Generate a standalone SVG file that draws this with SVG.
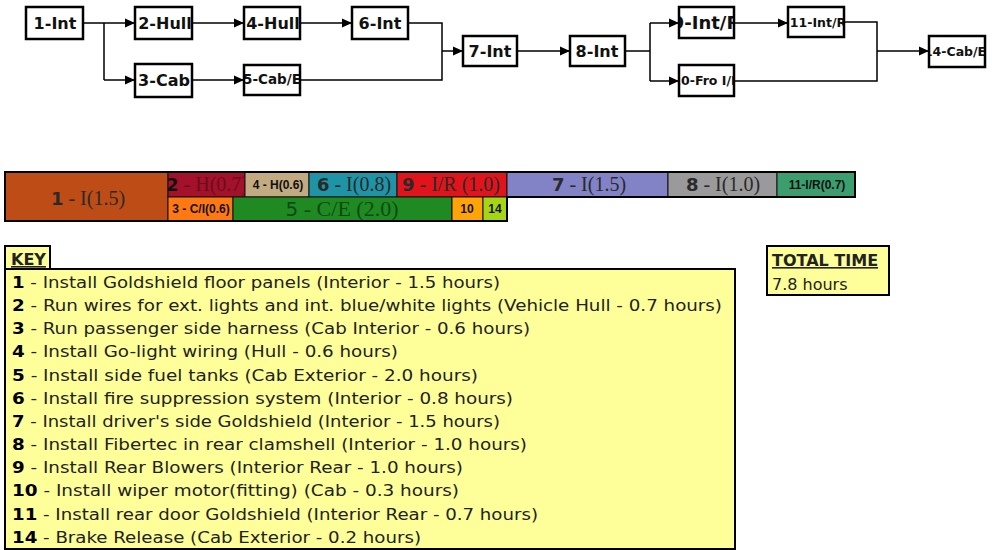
<svg xmlns="http://www.w3.org/2000/svg" width="992" height="550" viewBox="0 0 992 550">
<style>
.node rect{fill:#fff;stroke:#000;stroke-width:2.5}
.nl{font-family:"DejaVu Sans",Verdana,sans-serif;font-weight:bold;font-size:16px;fill:#111;text-anchor:middle}
.ns{font-family:"DejaVu Sans",Verdana,sans-serif;font-weight:bold;font-size:12.5px;fill:#111;text-anchor:middle}
.conn path{fill:none;stroke:#000;stroke-width:1.5}
.cell{stroke:#111;stroke-width:1}
.gl{font-family:"Liberation Serif","Times New Roman",serif;font-size:20px;fill:#2a2a2a;text-anchor:middle}
.gl tspan.d{font-family:"DejaVu Sans",Verdana,sans-serif;font-weight:bold;font-size:18px}
.gs{font-family:"Liberation Sans",Arial,sans-serif;font-size:12px;font-weight:bold;fill:#111;text-anchor:middle}
.key{font-family:"DejaVu Sans",Verdana,sans-serif;font-size:16px;fill:#222}
.key tspan.b{font-weight:bold;fill:#000}
.box{fill:#ffff99;stroke:#000;stroke-width:2}
</style>
<defs>
<marker id="ah" markerWidth="10" markerHeight="10" refX="10" refY="5" orient="auto" markerUnits="userSpaceOnUse">
<path d="M0,0.5 L10,5 L0,9.5 z" fill="#000"/>
</marker>
<clipPath id="c1"><rect x="26" y="7" width="57" height="32"/></clipPath>
<clipPath id="c2"><rect x="136" y="7" width="55" height="32"/></clipPath>
<clipPath id="c4"><rect x="245" y="7" width="54" height="32"/></clipPath>
<clipPath id="c6"><rect x="352" y="7" width="56" height="32"/></clipPath>
<clipPath id="c3"><rect x="136" y="64" width="55" height="33"/></clipPath>
<clipPath id="c5"><rect x="245" y="65" width="54" height="30"/></clipPath>
<clipPath id="c7"><rect x="463" y="36" width="54" height="30"/></clipPath>
<clipPath id="c8"><rect x="570" y="36" width="55" height="30"/></clipPath>
<clipPath id="c9"><rect x="680" y="7" width="53" height="31"/></clipPath>
<clipPath id="c11"><rect x="789" y="7" width="54" height="30"/></clipPath>
<clipPath id="c10"><rect x="680" y="65" width="53" height="31"/></clipPath>
<clipPath id="c14"><rect x="930" y="36" width="54" height="31"/></clipPath>
<clipPath id="g2"><rect x="168" y="172" width="77" height="25"/></clipPath>
<clipPath id="g5"><rect x="233" y="197" width="219" height="24"/></clipPath>
</defs>
<rect width="992" height="550" fill="#fff"/>

<g class="conn" id="connectors">
<path d="M83,23 H104 M104,23 V80"/>
<path d="M104,23 H135" marker-end="url(#ah)"/>
<path d="M104,80 H135" marker-end="url(#ah)"/>
<path d="M192,23 H244" marker-end="url(#ah)"/>
<path d="M300,23 H352" marker-end="url(#ah)"/>
<path d="M192,80 H244" marker-end="url(#ah)"/>
<path d="M408,23 H442 V80 H300"/>
<path d="M442,51 H463" marker-end="url(#ah)"/>
<path d="M517,51 H570" marker-end="url(#ah)"/>
<path d="M625,51 H650 M650,23 V81"/>
<path d="M650,23 H679" marker-end="url(#ah)"/>
<path d="M650,81 H679" marker-end="url(#ah)"/>
<path d="M734,23 H788" marker-end="url(#ah)"/>
<path d="M844,22 H877 V81 H734"/>
<path d="M877,51 H929" marker-end="url(#ah)"/>
</g>

<g class="node" id="n1"><rect x="26" y="7" width="57" height="32"/><text class="nl" x="55" y="29" clip-path="url(#c1)">1-Int</text></g>
<g class="node" id="n2"><rect x="135" y="7" width="57" height="32"/><text class="nl" x="165" y="29" clip-path="url(#c2)">2-Hull</text></g>
<g class="node" id="n4"><rect x="244" y="7" width="56" height="32"/><text class="nl" x="273" y="29" clip-path="url(#c4)">4-Hull</text></g>
<g class="node" id="n6"><rect x="352" y="7" width="56" height="32"/><text class="nl" x="380" y="29" clip-path="url(#c6)">6-Int</text></g>
<g class="node" id="n3"><rect x="135" y="64" width="57" height="33"/><text class="nl" x="164" y="86" clip-path="url(#c3)">3-Cab</text></g>
<g class="node" id="n5"><rect x="244" y="65" width="56" height="30"/><text class="ns" x="272" y="84" clip-path="url(#c5)" style="font-size:13.5px">5-Cab/E</text></g>
<g class="node" id="n7"><rect x="463" y="36" width="54" height="30"/><text class="nl" x="490" y="57" clip-path="url(#c7)">7-Int</text></g>
<g class="node" id="n8"><rect x="570" y="36" width="55" height="30"/><text class="nl" x="597" y="57" clip-path="url(#c8)">8-Int</text></g>
<g class="node" id="n9"><rect x="679" y="7" width="55" height="31"/><text class="nl" x="706" y="29" clip-path="url(#c9)" style="font-size:18px">9-Int/R</text></g>
<g class="node" id="n11"><rect x="788" y="7" width="56" height="30"/><text class="ns" x="818" y="27" clip-path="url(#c11)">11-Int/R</text></g>
<g class="node" id="n10"><rect x="679" y="65" width="55" height="31"/><text class="ns" x="704" y="85" clip-path="url(#c10)">10-Fro I/I</text></g>
<g class="node" id="n14"><rect x="929" y="36" width="56" height="31"/><text class="ns" x="955" y="56" clip-path="url(#c14)">14-Cab/E</text></g>

<g id="gantt">
<rect class="cell" x="5" y="172" width="163" height="49" fill="#bd4c16"/>
<rect class="cell" x="168" y="172" width="77" height="25" fill="#a3112b"/>
<rect class="cell" x="245" y="172" width="64" height="25" fill="#c2ab80"/>
<rect class="cell" x="309" y="172" width="88" height="25" fill="#1e94a6"/>
<rect class="cell" x="397" y="172" width="110" height="25" fill="#e2141b"/>
<rect class="cell" x="507" y="172" width="161" height="25" fill="#8282c6"/>
<rect class="cell" x="668" y="172" width="109" height="25" fill="#9a9a9a"/>
<rect class="cell" x="777" y="172" width="78" height="25" fill="#3c9e6e"/>
<rect class="cell" x="168" y="197" width="65" height="24" fill="#ff7812"/>
<rect class="cell" x="233" y="197" width="219" height="24" fill="#1f8a22"/>
<rect class="cell" x="452" y="197" width="31" height="24" fill="#ffa404"/>
<rect class="cell" x="483" y="197" width="24" height="24" fill="#a6d612"/>
<path d="M5,172 H855 V197 H507 V221 H5 Z" fill="none" stroke="#000" stroke-width="2"/>
<text class="gl" x="88" y="205"><tspan class="d">1</tspan> - I(1.5)</text>
<text class="gl" x="207" y="191" clip-path="url(#g2)" style="fill:#6e0c1c"><tspan class="d" style="fill:#111">2</tspan> - H(0.7)</text>
<text class="gs" x="278" y="189">4 - H(0.6)</text>
<text class="gl" x="354" y="191"><tspan class="d">6</tspan> - I(0.8)</text>
<text class="gl" x="451" y="191"><tspan class="d">9</tspan> - I/R (1.0)</text>
<text class="gl" x="589" y="191"><tspan class="d">7</tspan> - I(1.5)</text>
<text class="gl" x="723" y="191"><tspan class="d">8</tspan> - I(1.0)</text>
<text class="gs" x="817" y="189">11-I/R(0.7)</text>
<text class="gs" x="201" y="213">3 - C/I(0.6)</text>
<text class="gl" x="342" y="216" clip-path="url(#g5)" style="fill:#0e4a12;font-size:22px"><tspan class="d" style="font-weight:normal;font-size:20px">5</tspan> - C/E (2.0)</text>
<text class="gs" x="467" y="213">10</text>
<text class="gs" x="495" y="213">14</text>
</g>

<g id="key">
<rect class="box" x="5" y="246" width="45" height="24"/>
<text class="key" x="11" y="265" font-weight="bold" text-decoration="underline">KEY</text>
<rect class="box" x="5" y="269" width="730" height="280"/>
<text class="key" x="12" y="288" textLength="488" lengthAdjust="spacingAndGlyphs"><tspan class="b">1</tspan> - Install Goldshield floor panels (Interior - 1.5 hours)</text>
<text class="key" x="12" y="311" textLength="710" lengthAdjust="spacingAndGlyphs"><tspan class="b">2</tspan> - Run wires for ext. lights and int. blue/white lights (Vehicle Hull - 0.7 hours)</text>
<text class="key" x="12" y="334" textLength="518" lengthAdjust="spacingAndGlyphs"><tspan class="b">3</tspan> - Run passenger side harness (Cab Interior - 0.6 hours)</text>
<text class="key" x="12" y="357" textLength="386" lengthAdjust="spacingAndGlyphs"><tspan class="b">4</tspan> - Install Go-light wiring (Hull - 0.6 hours)</text>
<text class="key" x="12" y="381" textLength="466" lengthAdjust="spacingAndGlyphs"><tspan class="b">5</tspan> - Install side fuel tanks (Cab Exterior - 2.0 hours)</text>
<text class="key" x="12" y="404" textLength="501" lengthAdjust="spacingAndGlyphs"><tspan class="b">6</tspan> - Install fire suppression system (Interior - 0.8 hours)</text>
<text class="key" x="12" y="427" textLength="488" lengthAdjust="spacingAndGlyphs"><tspan class="b">7</tspan> - Install driver's side Goldshield (Interior - 1.5 hours)</text>
<text class="key" x="12" y="450" textLength="515" lengthAdjust="spacingAndGlyphs"><tspan class="b">8</tspan> - Install Fibertec in rear clamshell (Interior - 1.0 hours)</text>
<text class="key" x="12" y="473" textLength="451" lengthAdjust="spacingAndGlyphs"><tspan class="b">9</tspan> - Install Rear Blowers (Interior Rear - 1.0 hours)</text>
<text class="key" x="12" y="496" textLength="447" lengthAdjust="spacingAndGlyphs"><tspan class="b">10</tspan> - Install wiper motor(fitting) (Cab - 0.3 hours)</text>
<text class="key" x="12" y="520" textLength="526" lengthAdjust="spacingAndGlyphs"><tspan class="b">11</tspan> - Install rear door Goldshield (Interior Rear - 0.7 hours)</text>
<text class="key" x="12" y="543" textLength="409" lengthAdjust="spacingAndGlyphs"><tspan class="b">14</tspan> - Brake Release (Cab Exterior - 0.2 hours)</text>
</g>

<g id="total">
<rect class="box" x="767" y="246" width="122" height="49"/>
<text class="key" x="772" y="266" font-weight="bold" text-decoration="underline" fill="#1a0a0a">TOTAL TIME</text>
<text class="key" x="772" y="290">7.8 hours</text>
</g>
</svg>
